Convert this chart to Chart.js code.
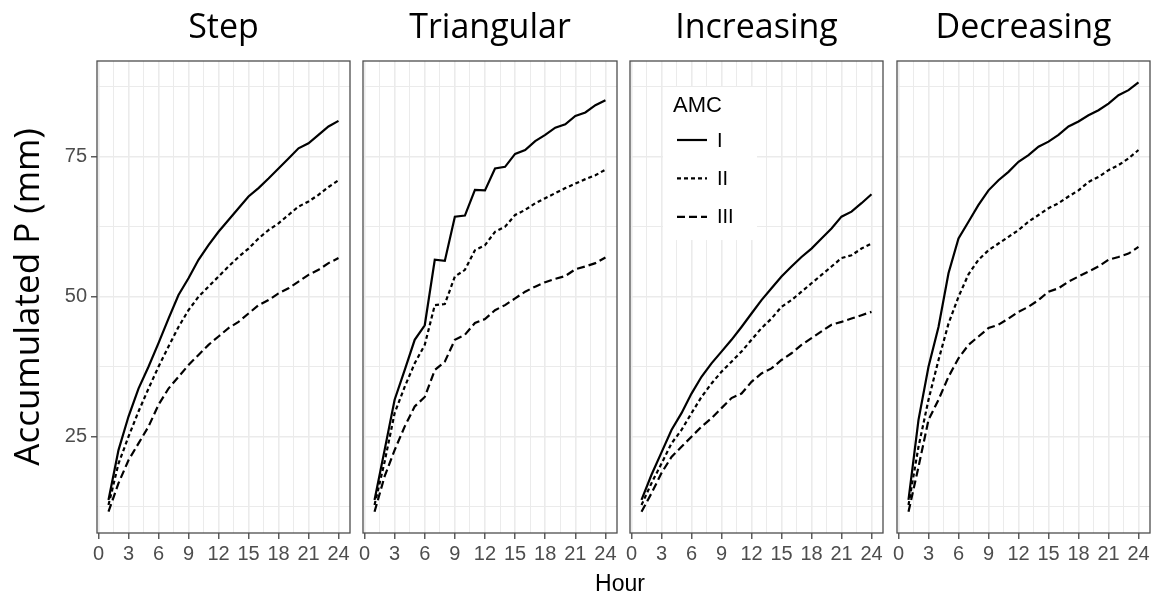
<!DOCTYPE html>
<html>
<head>
<meta charset="utf-8">
<script src="https://cdn.jsdelivr.net/npm/chart.js@4.4.1/dist/chart.umd.min.js"></script>
<style>
  html, body { margin: 0; padding: 0; background: #fff; }
  #wrap { position: relative; width: 1153px; height: 594px; overflow: hidden; }
  #wrap canvas { position: absolute; top: 0; }
  #hour { position: absolute; top: 572px; left: 0; width: 1240px; text-align: center;
          font: 23px "Liberation Sans", Arial, sans-serif; line-height: 23px; color: #000; }
</style>
</head>
<body>
<div id="wrap">
  <canvas id="p0" width="362" height="594" style="left:0px"></canvas>
  <canvas id="p1" width="278" height="594" style="left:351px"></canvas>
  <canvas id="p2" width="277" height="594" style="left:618px"></canvas>
  <canvas id="p3" width="268" height="594" style="left:885px"></canvas>
  <div id="hour">Hour</div>
</div>
<script>
// hours of the storm
const hours = [1, 2, 3, 4, 5, 6, 7, 8, 9, 10, 11, 12, 13, 14, 15, 16, 17, 18, 19, 20, 21, 22, 23, 24];

const panelTitles = ['Step', 'Triangular', 'Increasing', 'Decreasing'];
const amcLevels = ['I', 'II', 'III'];

// tick positions (majors get labels, the rest are minor grid lines)
const xTicks = [0, 1.5, 3, 4.5, 6, 7.5, 9, 10.5, 12, 13.5, 15, 16.5, 18, 19.5, 21, 22.5, 24];
const xLabels = [0, 3, 6, 9, 12, 15, 18, 21, 24];
const yTicks = [12.5, 25, 37.5, 50, 62.5, 75, 87.5];
const yLabels = [25, 50, 75];

// accumulated P (mm)
const stepI   = [13.7, 22.6, 28.6, 33.6, 37.5, 41.7, 46.1, 50.3, 53.3, 56.6, 59.2, 61.6, 63.7, 65.8, 67.9, 69.4, 71.1, 72.9, 74.7, 76.5, 77.4, 78.9, 80.4, 81.4];
const stepII  = [12.8, 20.2, 25.0, 29.5, 33.6, 37.5, 41.1, 44.6, 47.6, 50.0, 51.8, 53.6, 55.4, 57.1, 58.6, 60.4, 61.9, 63.1, 64.6, 66.1, 67.0, 68.2, 69.6, 70.8];
const stepIII = [11.6, 16.7, 20.8, 23.8, 26.8, 30.7, 33.6, 35.7, 37.8, 39.6, 41.4, 42.9, 44.4, 45.5, 47.0, 48.5, 49.4, 50.6, 51.5, 52.7, 53.9, 54.8, 56.0, 56.9];

const triI   = [13.7, 22.6, 31.6, 36.9, 42.3, 44.9, 56.6, 56.4, 64.3, 64.5, 69.1, 69.0, 72.9, 73.2, 75.5, 76.2, 77.8, 78.9, 80.2, 80.8, 82.3, 82.9, 84.2, 85.1];
const triII  = [12.8, 20.5, 29.2, 33.9, 38.1, 41.4, 48.5, 48.7, 53.6, 54.8, 58.3, 59.2, 61.6, 62.5, 64.6, 65.5, 66.7, 67.6, 68.5, 69.4, 70.2, 71.0, 71.7, 72.7];
const triIII = [11.6, 17.9, 22.6, 26.8, 30.4, 32.1, 36.9, 38.4, 42.3, 43.2, 45.3, 46.0, 47.6, 48.5, 49.7, 50.9, 51.8, 52.6, 53.2, 53.7, 54.9, 55.4, 56.0, 57.0];

const incI   = [13.7, 18.2, 22.2, 26.2, 29.2, 32.7, 35.7, 38.1, 40.2, 42.3, 44.6, 47.0, 49.4, 51.5, 53.6, 55.4, 57.1, 58.6, 60.4, 62.2, 64.3, 65.2, 66.7, 68.3];
const incII  = [12.8, 16.7, 20.2, 23.8, 26.2, 29.2, 32.1, 34.5, 36.6, 38.4, 40.2, 42.3, 44.4, 46.1, 48.2, 49.4, 50.9, 52.4, 53.9, 55.4, 56.9, 57.4, 58.6, 59.5];
const incIII = [11.6, 14.9, 18.5, 21.4, 23.2, 25.0, 26.8, 28.3, 30.1, 31.9, 32.7, 34.8, 36.3, 37.2, 38.7, 39.9, 41.4, 42.6, 43.8, 45.0, 45.5, 46.1, 46.7, 47.3];

const decI   = [13.7, 28.0, 37.5, 44.6, 54.2, 60.4, 63.4, 66.4, 69.0, 70.8, 72.3, 74.1, 75.3, 76.8, 77.7, 78.9, 80.4, 81.3, 82.4, 83.3, 84.5, 86.0, 86.9, 88.3];
const decII  = [12.8, 23.2, 31.6, 38.7, 45.2, 50.0, 54.0, 56.6, 58.3, 59.5, 60.7, 61.9, 63.4, 64.6, 65.8, 66.7, 67.9, 69.0, 70.5, 71.4, 72.6, 73.5, 74.7, 76.2];
const decIII = [11.6, 19.6, 28.0, 31.6, 35.7, 39.0, 41.4, 42.9, 44.4, 45.0, 46.1, 47.3, 48.2, 49.4, 50.9, 51.5, 52.7, 53.6, 54.5, 55.4, 56.6, 57.1, 57.7, 58.9];

const panelSeries = [
    [stepI, stepII, stepIII],
    [triI, triII, triIII],
    [incI, incII, incIII],
    [decI, decII, decIII]
];

const amcDash = [[], [4, 3], [8, 4]];
const tickFont = { family: '"Liberation Sans", Arial, sans-serif', size: 20 };
const gridGrey = '#ebebeb';

// dark frame around every facet, drawn on top of the lines
const panelBox = {
    id: 'panelBox',
    afterDatasetsDraw(chart) {
        const { ctx, chartArea: a } = chart;
        ctx.save();
        ctx.strokeStyle = '#4d4d4d';
        ctx.lineWidth = 1.3;
        ctx.strokeRect(a.left, a.top, a.right - a.left, a.bottom - a.top);
        ctx.restore();
    }
};

// ggplot style legend that sits inside the third facet
const amcLegend = {
    id: 'amcLegend',
    afterDraw(chart) {
        const { ctx, chartArea: a } = chart;
        const x0 = a.left + 33;
        const y0 = a.top + 26;
        ctx.save();
        ctx.fillStyle = '#fff';
        ctx.fillRect(x0, y0, 94, 153);
        ctx.fillStyle = '#000';
        ctx.font = '22px "Liberation Sans", Arial, sans-serif';
        ctx.textBaseline = 'alphabetic';
        ctx.textAlign = 'left';
        ctx.fillText('AMC', x0 + 10, y0 + 25);
        ctx.font = '20px "Liberation Sans", Arial, sans-serif';
        ctx.textBaseline = 'middle';
        chart.data.datasets.forEach((ds, i) => {
            const y = y0 + 53 + i * 38.4;
            ctx.strokeStyle = ds.borderColor;
            ctx.lineWidth = ds.borderWidth;
            ctx.setLineDash(ds.borderDash);
            ctx.beginPath();
            ctx.moveTo(x0 + 14, y);
            ctx.lineTo(x0 + 44, y);
            ctx.stroke();
            ctx.setLineDash([]);
            ctx.fillText(ds.label, x0 + 54, y + 1);
        });
        ctx.restore();
    }
};

function makePanel(idx) {
    const first = idx === 0;
    const series = panelSeries[idx];

    return new Chart(document.getElementById('p' + idx), {
        type: 'line',
        data: {
            datasets: series.map((vals, i) => ({
                label: amcLevels[i],
                data: hours.map((h, k) => ({ x: h, y: vals[k] })),
                borderColor: '#000',
                borderWidth: 2.2,
                borderDash: amcDash[i],
                pointRadius: 0,
                tension: 0,
                fill: false
            }))
        },
        options: {
            responsive: false,
            animation: false,
            layout: { padding: { left: first ? 0 : 12, right: idx === 3 ? 3 : 12, top: 0, bottom: 0 } },
            plugins: {
                legend: { display: false },
                tooltip: { enabled: false },
                title: {
                    display: true,
                    text: panelTitles[idx],
                    fullSize: false,
                    color: '#000',
                    font: { family: '"Open Sans", sans-serif', size: 34, weight: 'normal', lineHeight: 1 },
                    padding: { top: 11, bottom: 16 }
                }
            },
            scales: {
                x: {
                    type: 'linear',
                    min: -0.15,
                    max: 25.15,
                    afterBuildTicks: s => { s.ticks = xTicks.map(v => ({ value: v })); },
                    afterFit: s => { s.height = 61; },
                    ticks: {
                        autoSkip: false,
                        maxRotation: 0,
                        padding: 3,
                        color: '#4d4d4d',
                        font: tickFont,
                        callback: v => xLabels.includes(v) ? String(v) : ''
                    },
                    grid: {
                        color: gridGrey,
                        lineWidth: c => xLabels.includes(c.tick.value) ? 1.6 : 1,
                        tickLength: 6,
                        tickWidth: 1.2,
                        tickColor: c => xLabels.includes(c.tick.value) ? '#333' : 'rgba(0,0,0,0)'
                    },
                    border: { display: false }
                },
                y: {
                    min: 7.8,
                    max: 92.1,
                    afterBuildTicks: s => { s.ticks = yTicks.map(v => ({ value: v })); },
                    afterFit: s => { s.width = first ? 97 : 0; },
                    ticks: {
                        display: first,
                        padding: 4,
                        color: '#4d4d4d',
                        font: tickFont,
                        callback: v => yLabels.includes(v) ? String(v) : ''
                    },
                    title: {
                        display: first,
                        text: 'Accumulated P (mm)',
                        color: '#000',
                        font: { family: '"Open Sans", sans-serif', size: 35, weight: 'normal' },
                        padding: { top: 8, bottom: 0 }
                    },
                    grid: {
                        color: gridGrey,
                        lineWidth: c => yLabels.includes(c.tick.value) ? 1.6 : 1,
                        drawTicks: first,
                        tickLength: 6,
                        tickWidth: 1.2,
                        tickColor: c => yLabels.includes(c.tick.value) ? '#333' : 'rgba(0,0,0,0)'
                    },
                    border: { display: false }
                }
            }
        },
        plugins: idx === 2 ? [panelBox, amcLegend] : [panelBox]
    });
}

panelTitles.forEach((t, i) => makePanel(i));
</script>
</body>
</html>
